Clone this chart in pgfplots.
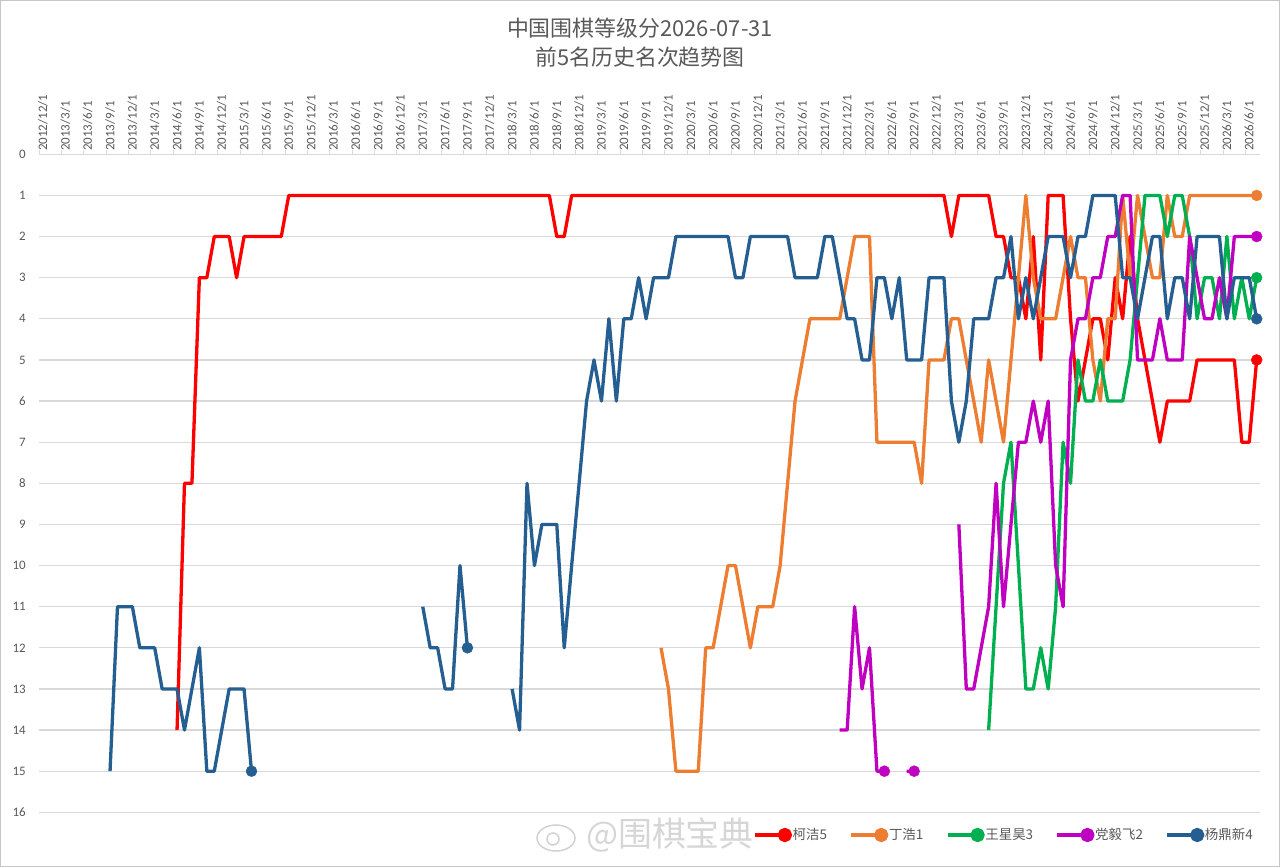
\documentclass[border=0pt]{standalone}
\usepackage{pgfplots}
\pgfplotsset{compat=1.18}
\usepackage{pgfplotstable}
\usetikzlibrary{calc}
\usepackage{fontspec}
\setmainfont{Carlito}
\newfontfamily\cjk{Noto Sans CJK SC}
\definecolor{cred}{HTML}{FF0000}
\definecolor{corange}{HTML}{ED7D31}
\definecolor{cgreen}{HTML}{00B050}
\definecolor{cmag}{HTML}{C000C0}
\definecolor{cblue}{HTML}{255E91}
\definecolor{cgrid}{HTML}{D9D9D9}
\definecolor{ctext}{HTML}{595959}

\pgfplotstableread{
i r o g m b
0 nan nan nan nan nan
1 nan nan nan nan nan
2 nan nan nan nan nan
3 nan nan nan nan nan
4 nan nan nan nan nan
5 nan nan nan nan nan
6 nan nan nan nan nan
7 nan nan nan nan nan
8 nan nan nan nan nan
9 nan nan nan nan 15
10 nan nan nan nan 11
11 nan nan nan nan 11
12 nan nan nan nan 11
13 nan nan nan nan 12
14 nan nan nan nan 12
15 nan nan nan nan 12
16 nan nan nan nan 13
17 nan nan nan nan 13
18 14 nan nan nan 13
19 8 nan nan nan 14
20 8 nan nan nan 13
21 3 nan nan nan 12
22 3 nan nan nan 15
23 2 nan nan nan 15
24 2 nan nan nan 14
25 2 nan nan nan 13
26 3 nan nan nan 13
27 2 nan nan nan 13
28 2 nan nan nan 15
29 2 nan nan nan nan
30 2 nan nan nan nan
31 2 nan nan nan nan
32 2 nan nan nan nan
33 1 nan nan nan nan
34 1 nan nan nan nan
35 1 nan nan nan nan
36 1 nan nan nan nan
37 1 nan nan nan nan
38 1 nan nan nan nan
39 1 nan nan nan nan
40 1 nan nan nan nan
41 1 nan nan nan nan
42 1 nan nan nan nan
43 1 nan nan nan nan
44 1 nan nan nan nan
45 1 nan nan nan nan
46 1 nan nan nan nan
47 1 nan nan nan nan
48 1 nan nan nan nan
49 1 nan nan nan nan
50 1 nan nan nan nan
51 1 nan nan nan 11
52 1 nan nan nan 12
53 1 nan nan nan 12
54 1 nan nan nan 13
55 1 nan nan nan 13
56 1 nan nan nan 10
57 1 nan nan nan 12
58 1 nan nan nan nan
59 1 nan nan nan nan
60 1 nan nan nan nan
61 1 nan nan nan nan
62 1 nan nan nan nan
63 1 nan nan nan 13
64 1 nan nan nan 14
65 1 nan nan nan 8
66 1 nan nan nan 10
67 1 nan nan nan 9
68 1 nan nan nan 9
69 2 nan nan nan 9
70 2 nan nan nan 12
71 1 nan nan nan 10
72 1 nan nan nan 8
73 1 nan nan nan 6
74 1 nan nan nan 5
75 1 nan nan nan 6
76 1 nan nan nan 4
77 1 nan nan nan 6
78 1 nan nan nan 4
79 1 nan nan nan 4
80 1 nan nan nan 3
81 1 nan nan nan 4
82 1 nan nan nan 3
83 1 12 nan nan 3
84 1 13 nan nan 3
85 1 15 nan nan 2
86 1 15 nan nan 2
87 1 15 nan nan 2
88 1 15 nan nan 2
89 1 12 nan nan 2
90 1 12 nan nan 2
91 1 11 nan nan 2
92 1 10 nan nan 2
93 1 10 nan nan 3
94 1 11 nan nan 3
95 1 12 nan nan 2
96 1 11 nan nan 2
97 1 11 nan nan 2
98 1 11 nan nan 2
99 1 10 nan nan 2
100 1 8 nan nan 2
101 1 6 nan nan 3
102 1 5 nan nan 3
103 1 4 nan nan 3
104 1 4 nan nan 3
105 1 4 nan nan 2
106 1 4 nan nan 2
107 1 4 nan 14 3
108 1 3 nan 14 4
109 1 2 nan 11 4
110 1 2 nan 13 5
111 1 2 nan 12 5
112 1 7 nan 15 3
113 1 7 nan 15 3
114 1 7 nan nan 4
115 1 7 nan nan 3
116 1 7 nan 15 5
117 1 7 nan 15 5
118 1 8 nan nan 5
119 1 5 nan nan 3
120 1 5 nan nan 3
121 1 5 nan nan 3
122 2 4 nan nan 6
123 1 4 nan 9 7
124 1 5 nan 13 6
125 1 6 nan 13 4
126 1 7 nan 12 4
127 1 5 14 11 4
128 2 6 11 8 3
129 2 7 8 11 3
130 3 5 7 9 2
131 3 3 10 7 4
132 4 1 13 7 3
133 2 3 13 6 4
134 5 4 12 7 3
135 1 4 13 6 2
136 1 4 11 10 2
137 1 3 7 11 2
138 4 2 8 5 3
139 6 3 5 4 2
140 5 3 6 4 2
141 4 5 6 3 1
142 4 6 5 3 1
143 5 4 6 2 1
144 3 4 6 2 1
145 4 1 6 1 3
146 2 3 5 1 3
147 4 1 3 5 4
148 5 2 1 5 3
149 6 3 1 5 2
150 7 3 1 4 2
151 6 1 2 5 4
152 6 2 1 5 3
153 6 2 1 5 3
154 6 1 2 2 4
155 5 1 4 3 2
156 5 1 3 4 2
157 5 1 3 4 2
158 5 1 4 3 2
159 5 1 2 4 4
160 5 1 4 2 3
161 7 1 3 2 3
162 7 1 4 2 3
163 5 1 3 2 4
}\ranks

\begin{document}
\begin{tikzpicture}
\begin{axis}[
  name=ax,
  width=1221.1bp, height=658bp, scale only axis,
  xmin=-0.5, xmax=163.5, ymin=0, ymax=16, y dir=reverse,
  clip=false,
  unbounded coords=jump,
  axis line style={draw=none},
  ytick={0,1,...,16},
  ymajorgrids,
  grid style={cgrid, line width=1.2bp},
  major tick length=0pt,
  xtick={0,3,...,162},
  xticklabels={2012/12/1,2013/3/1,2013/6/1,2013/9/1,2013/12/1,2014/3/1,2014/6/1,2014/9/1,2014/12/1,2015/3/1,2015/6/1,2015/9/1,2015/12/1,2016/3/1,2016/6/1,2016/9/1,2016/12/1,2017/3/1,2017/6/1,2017/9/1,2017/12/1,2018/3/1,2018/6/1,2018/9/1,2018/12/1,2019/3/1,2019/6/1,2019/9/1,2019/12/1,2020/3/1,2020/6/1,2020/9/1,2020/12/1,2021/3/1,2021/6/1,2021/9/1,2021/12/1,2022/3/1,2022/6/1,2022/9/1,2022/12/1,2023/3/1,2023/6/1,2023/9/1,2023/12/1,2024/3/1,2024/6/1,2024/9/1,2024/12/1,2025/3/1,2025/6/1,2025/9/1,2025/12/1,2026/3/1,2026/6/1},
  xticklabel pos=upper,
  xtick pos=upper,
  ytick pos=lower,
  minor xtick={-0.5,2.5,...,162.5},
  minor tick length=4bp,
  minor tick style={cgrid, line width=1bp},
  tick align=outside,
  /pgf/number format/assume math mode=true,
  xticklabel style={rotate=90, anchor=west, font=\fontsize{13}{15}\selectfont, text=ctext},
  yticklabel style={font=\fontsize{13}{15}\selectfont, text=ctext, xshift=-10bp},
  legend columns=5,
  legend style={at={(0.5845,-0.0345)}, anchor=west, draw=none, fill=none,
    font=\cjk\fontsize{13.5}{15}\selectfont, text=ctext,
    /tikz/every even column/.append style={column sep=22bp},
    inner sep=0pt, nodes={inner sep=0.6bp}},
  legend image code/.code={\draw[#1] (0bp,0bp) -- (30bp,0bp); \fill[#1] (30bp,0bp) circle (5.5bp);},
]
\addplot[color=cred, line width=3.3bp, line join=round, mark=none] table[x=i,y=r]{\ranks};
\addlegendentry{柯洁5}
\addplot[color=corange, line width=3.3bp, line join=round, mark=none] table[x=i,y=o]{\ranks};
\addlegendentry{丁浩1}
\addplot[color=cgreen, line width=3.3bp, line join=round, mark=none] table[x=i,y=g]{\ranks};
\addlegendentry{王星昊3}
\addplot[color=cmag, line width=3.3bp, line join=round, mark=none] table[x=i,y=m]{\ranks};
\addlegendentry{党毅飞2}
\addplot[color=cblue, line width=3.3bp, line join=round, mark=none] table[x=i,y=b]{\ranks};
\addlegendentry{杨鼎新4}
% end-of-segment markers
\addplot[forget plot, only marks, mark=*, mark size=5.5bp, color=cred] coordinates {(163,5)};
\addplot[forget plot, only marks, mark=*, mark size=5.5bp, color=corange] coordinates {(163,1)};
\addplot[forget plot, only marks, mark=*, mark size=5.5bp, color=cgreen] coordinates {(163,3)};
\addplot[forget plot, only marks, mark=*, mark size=5.5bp, color=cmag] coordinates {(113,15) (117,15) (163,2)};
\addplot[forget plot, only marks, mark=*, mark size=5.5bp, color=cblue] coordinates {(28,15) (57,12) (163,4)};
\coordinate (TL) at (axis cs:-0.5,0);
\end{axis}
\pgfresetboundingbox
\coordinate (O) at ($(TL)+(-39.3bp,154.3bp)$);
\path[use as bounding box] (O) rectangle ($(O)+(1280bp,-867bp)$);
\draw[gray!45, line width=1bp] ($(O)+(0.5bp,-0.5bp)$) rectangle ($(O)+(1279.5bp,-866.5bp)$);
\node[text=ctext, font=\cjk\fontsize{22}{24}\selectfont] at ($(O)+(640bp,-28bp)$) {中国围棋等级分2026-07-31};
\node[text=ctext, font=\cjk\fontsize{22}{24}\selectfont] at ($(O)+(640bp,-57bp)$) {前5名历史名次趋势图};
% watermark
\node[text=gray!32, font=\cjk\fontsize{34}{36}\selectfont, anchor=west, inner sep=0pt] at ($(O)+(586bp,-835bp)$) {@围棋宝典};
\draw[gray!35, line width=1.5bp] ($(O)+(556bp,-838bp)$) ellipse (19bp and 13bp);
\draw[gray!35, line width=1.5bp] ($(O)+(553bp,-839bp)$) circle (6bp);
\end{tikzpicture}
\end{document}
